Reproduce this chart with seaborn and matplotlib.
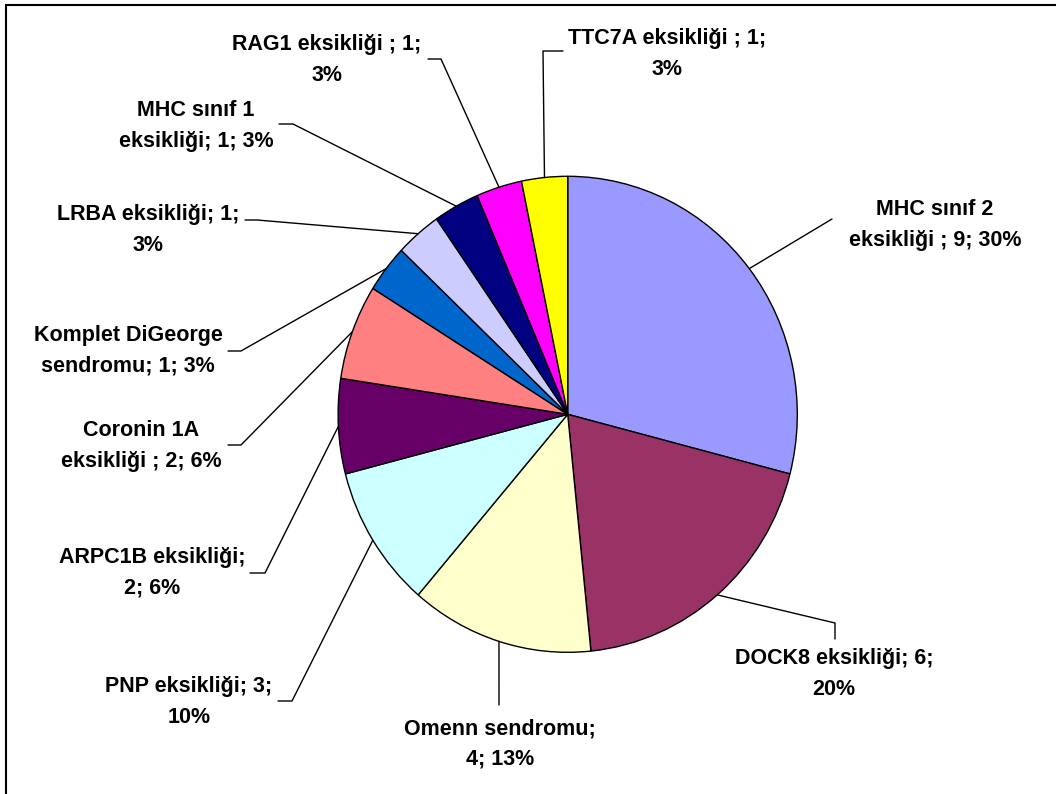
import numpy as np
import matplotlib
matplotlib.use("Agg")
import matplotlib.pyplot as plt
from matplotlib.patches import Rectangle
import seaborn as sns

# Primary immunodeficiency diagnoses: patient counts per diagnosis
categories = [
    "MHC sınıf 2 eksikliği", "DOCK8 eksikliği", "Omenn sendromu",
    "PNP eksikliği", "ARPC1B eksikliği", "Coronin 1A eksikliği",
    "Komplet DiGeorge sendromu", "LRBA eksikliği", "MHC sınıf 1 eksikliği",
    "RAG1 eksikliği", "TTC7A eksikliği",
]
counts = [9, 6, 4, 3, 2, 2, 1, 1, 1, 1, 1]
percents = ["30%", "20%", "13%", "10%", "6%", "6%", "3%", "3%", "3%", "3%", "3%"]
label_formats = [
    "MHC sınıf 2\neksikliği ; {n}; {p}",
    "DOCK8 eksikliği; {n};\n{p}",
    "Omenn sendromu;\n{n}; {p}",
    "PNP eksikliği; {n};\n{p}",
    "ARPC1B eksikliği;\n{n}; {p}",
    "Coronin 1A\neksikliği ; {n}; {p}",
    "Komplet DiGeorge\nsendromu; {n}; {p}",
    "LRBA eksikliği; {n};\n{p}",
    "MHC sınıf 1\neksikliği; {n}; {p}",
    "RAG1 eksikliği ; {n};\n{p}",
    "TTC7A eksikliği ; {n};\n{p}",
]
colors = ["#9999FF", "#993366", "#FFFFCC", "#CCFFFF", "#660066", "#FF8080",
          "#0066CC", "#CCCCFF", "#000080", "#FF00FF", "#FFFF00"]

sns.set_theme(style="white")
plt.rcParams["font.family"] = ["Liberation Sans", "DejaVu Sans"]

W, H = 1056, 794
fig = plt.figure(figsize=(W / 100, H / 100), dpi=100)
ax = fig.add_axes([0, 0, 1, 1])

# pie geometry in pixels (centre and radii)
CX, CY, RX, RY = 567.7, 414.3, 229.6, 238.0


def px(x, y):
    """Pixel position -> data coordinates of the full-figure axes."""
    return (x - CX) / RX, (CY - y) / RY


wedges, _ = ax.pie(counts, colors=colors, startangle=90, counterclock=False,
                   radius=1.0, center=(0, 0),
                   wedgeprops=dict(edgecolor="black", linewidth=1.0))
ax.set_aspect("auto")
ax.set_xlim(-CX / RX, (W - CX) / RX)
ax.set_ylim(-(H - CY) / RY, CY / RY)
ax.axis("off")

# label block centres and leader-line elbows (pixels)
label_pos = [
    (935, 225), (834, 674), (500, 744), (189, 702), (152, 573),
    (141, 446), (128, 351), (148, 230), (196, 126), (327, 60), (667, 54),
]
leader_elbows = [
    [(832, 219)],
    [(835, 623), (835, 639)],
    [(499, 705)],
    [(292, 701), (278, 701)],
    [(265, 573), (250, 573)],
    [(241, 445), (228, 445)],
    [(241, 351), (228, 351)],
    [(257, 220), (245, 220)],
    [(293, 124), (279, 124)],
    [(441, 59), (428, 59)],
    [(543, 51), (563, 51)],
]

for w, fmt, n, p, pos, elbows in zip(wedges, label_formats, counts, percents,
                                    label_pos, leader_elbows):
    mid = np.deg2rad((w.theta1 + w.theta2) / 2)
    xs = [np.cos(mid)] + [px(*e)[0] for e in elbows]
    ys = [np.sin(mid)] + [px(*e)[1] for e in elbows]
    ax.plot(xs, ys, color="black", linewidth=1.0, clip_on=False)
    lx, ly = px(*pos)
    ax.text(lx, ly, fmt.format(n=n, p=p), ha="center", va="center",
            multialignment="center", fontsize=15.5, fontweight="bold",
            linespacing=1.6, color="black")

# chart-area frame
fig.add_artist(Rectangle((6 / W, -0.1), 1.2, 1 - 5 / H + 0.1,
                         transform=fig.transFigure, fill=False,
                         edgecolor="black", linewidth=1.5))

fig.savefig("out.png", dpi=100)
